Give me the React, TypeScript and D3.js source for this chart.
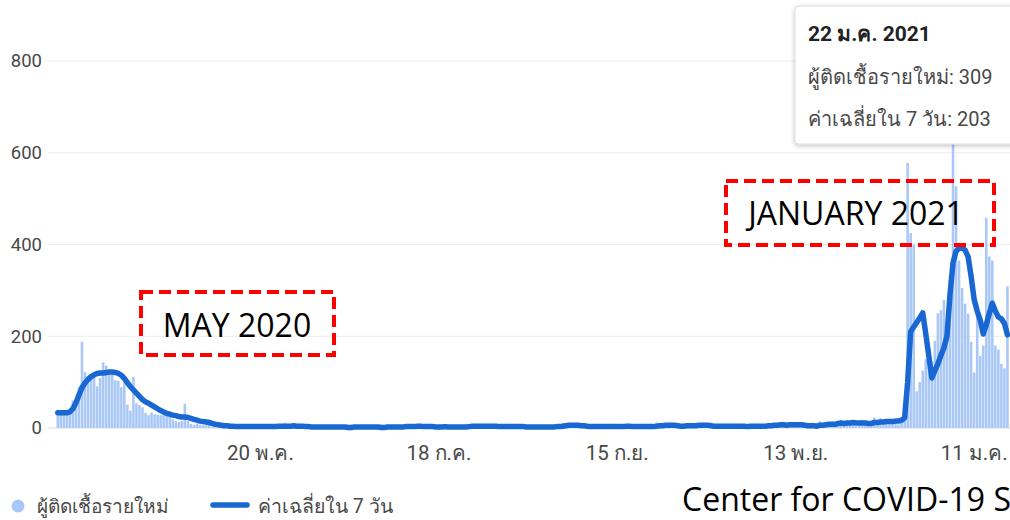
import React from 'react';
import * as d3 from 'd3';

const DAY = 86400000;
const startDay = Date.UTC(2020, 2, 14);

// daily new cases, one array per month (March starts on the 14th)
const casesMar = [30, 32, 33, 30, 35, 60, 50, 89, 188, 122, 106, 107, 111, 91, 109, 143, 136, 127];
const casesApr = [120, 104, 103, 89, 102, 51, 38, 111, 54, 50, 45, 33, 28, 34, 30, 29, 28, 33, 32, 27, 19, 15, 13, 15, 53, 15, 9, 7, 9, 7];
const casesMay = [6, 6, 18, 3, 1, 1, 3, 5, 5, 3, 0, 1, 2, 7, 2, 7, 3, 3, 1, 1, 4, 3, 2, 2, 3, 9, 3, 11, 1, 4, 6];
const casesJun = [1, 1, 2, 1, 2, 2, 0, 0, 3, 3, 2, 3, 4, 0, 0, 1, 0, 1, 2, 3, 5, 2, 2, 0, 4, 1, 1, 2, 0, 0];
const casesJul = [1, 3, 2, 2, 2, 3, 4, 5, 2, 1, 9, 3, 0, 2, 6, 1, 2, 1, 3, 5, 1, 0, 3, 1, 1, 4, 6, 4, 6, 3, 4];
const casesAug = [5, 2, 4, 4, 5, 2, 1, 2, 4, 3, 3, 5, 3, 0, 0, 4, 1, 5, 1, 3, 0, 2, 2, 1, 5, 6, 5, 11, 8, 9, 1];
const casesSep = [4, 2, 2, 3, 1, 4, 3, 5, 1, 2, 6, 3, 4, 2, 4, 3, 3, 8, 4, 1, 1, 3, 3, 3, 3, 4, 4, 12, 6, 5];
const casesOct = [10, 6, 2, 1, 1, 3, 4, 6, 3, 11, 9, 5, 5, 7, 2, 2, 5, 5, 3, 6, 4, 1, 5, 5, 3, 2, 7, 2, 4, 6, 3];
const casesNov = [2, 7, 3, 6, 9, 7, 3, 13, 2, 4, 11, 4, 9, 3, 5, 3, 7, 5, 3, 1, 14, 6, 13, 9, 7, 5, 13, 17, 7, 10];
const casesDec = [13, 15, 4, 6, 18, 7, 9, 12, 23, 9, 21, 8, 15, 11, 14, 19, 8, 25, 21, 578, 425, 400, 80, 100, 125, 150, 165, 145, 190, 250, 257];
const casesJan = [279, 216, 322, 745, 527, 365, 305, 271, 249, 188, 121, 250, 157, 180, 458, 374, 365, 180, 171, 140, 130, 309];

// 7-day average
const avgMar = [33, 33, 33, 33, 35, 42, 55, 72, 88, 98, 106, 112, 116, 119, 120, 120, 121, 122];
const avgApr = [122, 121, 119, 115, 108, 99, 90, 83, 76, 69, 62, 57, 54, 50, 46, 42, 38, 35, 32, 30, 28, 27, 25, 24, 24, 23, 21, 19, 17, 15];
const avgMay = [14, 13, 12, 10, 8, 7, 6, 5, 5, 4, 4, 3, 3, 3, 3, 3, 3, 3, 3, 3, 3, 3, 3, 3, 3, 4, 4, 4, 4, 4, 5];
const avgJun = [4, 4, 4, 3, 3, 2, 2, 2, 2, 2, 2, 2, 2, 2, 2, 2, 2, 1, 1, 2, 2, 2, 2, 2, 2, 2, 2, 2, 1, 1];
const avgJul = [2, 2, 2, 2, 2, 2, 3, 3, 3, 3, 4, 4, 3, 3, 3, 3, 2, 2, 2, 3, 2, 2, 2, 2, 2, 2, 2, 3, 4, 4, 4];
const avgAug = [4, 4, 4, 4, 4, 4, 3, 3, 3, 3, 3, 3, 3, 3, 3, 2, 2, 2, 2, 2, 2, 2, 2, 2, 2, 3, 3, 4, 5, 6, 6];
const avgSep = [6, 6, 5, 5, 4, 3, 3, 3, 3, 3, 3, 3, 3, 3, 3, 3, 3, 4, 4, 3, 3, 3, 3, 3, 3, 3, 3, 4, 5, 5];
const avgOct = [6, 6, 6, 6, 5, 4, 4, 5, 5, 5, 5, 6, 6, 6, 6, 5, 4, 4, 4, 4, 4, 4, 4, 4, 4, 4, 4, 3, 4, 4, 4];
const avgNov = [4, 4, 4, 5, 5, 6, 6, 7, 7, 6, 7, 7, 7, 7, 7, 6, 5, 5, 5, 4, 6, 6, 7, 8, 8, 8, 10, 11, 10, 11];
const avgDec = [11, 12, 11, 11, 11, 11, 10, 10, 12, 12, 13, 13, 14, 14, 14, 15, 15, 17, 22, 100, 210, 220, 230, 240, 251, 205, 157, 109, 125, 140, 158];
const avgJan = [175, 200, 290, 360, 385, 392, 392, 388, 373, 330, 280, 255, 235, 205, 225, 250, 272, 255, 242, 238, 228, 203];

const newCases = [...casesMar, ...casesApr, ...casesMay, ...casesJun, ...casesJul, ...casesAug, ...casesSep, ...casesOct, ...casesNov, ...casesDec, ...casesJan];
const avg7 = [...avgMar, ...avgApr, ...avgMay, ...avgJun, ...avgJul, ...avgAug, ...avgSep, ...avgOct, ...avgNov, ...avgDec, ...avgJan];

const tickDates = [Date.UTC(2020, 4, 20), Date.UTC(2020, 6, 18), Date.UTC(2020, 8, 15), Date.UTC(2020, 10, 13), Date.UTC(2021, 0, 11)];
const tickLabels = ['20 พ.ค.', '18 ก.ค.', '15 ก.ย.', '13 พ.ย.', '11 ม.ค.'];
const yTicks = [0, 200, 400, 600, 800];

const seriesNames = ['ผู้ติดเชื้อรายใหม่', 'ค่าเฉลี่ยใน 7 วัน'];
const tooltipTitle = '22 ม.ค. 2021';
const tooltipValues = [309, 203];
const calloutLabels = ['MAY 2020', 'JANUARY 2021'];
const sourceText = 'Center for COVID-19 Situation Administration';

const BAR = '#aac8f7';
const LINE = '#1967d2';
const AXIS_TEXT = '#484848';
const FONT = 'Roboto, Arial, sans-serif';

export default function App() {
  const W = 1010, H = 520;

  const x = d3.scaleUtc()
    .domain([new Date(Date.UTC(2020, 2, 22)), new Date(Date.UTC(2021, 0, 4))])
    .range([82, 953]);
  const y = d3.scaleLinear().domain([0, 800]).range([428, 61]);

  const days = newCases.map((v, i) => ({ date: new Date(startDay + i * DAY), cases: v, avg: avg7[i] }));
  const bw = (x(days[1].date) - x(days[0].date)) * 0.85;

  const line = d3.line<{ date: Date; avg: number }>()
    .x(d => x(d.date))
    .y(d => y(d.avg));

  return (
    <svg width={W} height={H} style={{ position: 'absolute', left: 0, top: 0, background: '#fff' }}>
      <defs>
        <filter id="tipShadow" x="-10%" y="-10%" width="130%" height="140%">
          <feDropShadow dx="0" dy="1.5" stdDeviation="2" floodColor="#000" floodOpacity="0.25" />
        </filter>
      </defs>

      {/* grid + y labels */}
      {yTicks.map(t => (
        <g key={t}>
          <line x1={48} x2={W} y1={y(t)} y2={y(t)} stroke={t === 0 ? '#dcdcdc' : '#ececec'} strokeWidth={1} />
          <text x={42} y={y(t)} dy="0.35em" textAnchor="end" fontFamily={FONT} fontSize={18.5} fill={AXIS_TEXT}>{t}</text>
        </g>
      ))}

      {/* daily bars */}
      {days.map((d, i) => (
        <rect key={i} x={x(d.date) - bw / 2} y={y(d.cases)} width={bw} height={y(0) - y(d.cases)} fill={BAR} />
      ))}

      {/* 7-day average */}
      <path d={line(days) || ''} fill="none" stroke={LINE} strokeWidth={5.5} strokeLinejoin="round" strokeLinecap="round" />

      {/* x labels */}
      {tickDates.map((t, i) => (
        <text key={t} x={x(new Date(t))} y={460} textAnchor="middle" fontFamily={FONT} fontSize={20.5} fill={AXIS_TEXT}>{tickLabels[i]}</text>
      ))}

      {/* callouts */}
      <rect x={141} y={292} width={193} height={63} fill="none" stroke="#ff0000" strokeWidth={4} strokeDasharray="12 6" />
      <text x={237} y={337} textAnchor="middle" fontFamily="'Open Sans', sans-serif" fontSize={32} fill="#000">{calloutLabels[0]}</text>
      <rect x={726} y={181} width={268} height={64} fill="none" stroke="#ff0000" strokeWidth={4} strokeDasharray="12 6" />
      <text x={856} y={225} textAnchor="middle" fontFamily="'Open Sans', sans-serif" fontSize={32} fill="#000">{calloutLabels[1]}</text>

      {/* legend */}
      <circle cx={18} cy={506} r={6.5} fill={BAR} />
      <text x={37} y={506} dy="0.35em" fontFamily={FONT} fontSize={19} fill={AXIS_TEXT}>{seriesNames[0]}</text>
      <line x1={213} x2={247} y1={505} y2={505} stroke={LINE} strokeWidth={5.5} strokeLinecap="round" />
      <text x={258} y={506} dy="0.35em" fontFamily={FONT} fontSize={19.5} fill={AXIS_TEXT}>{seriesNames[1]}</text>

      <text x={682} y={511} fontFamily="'Open Sans', sans-serif" fontSize={32} fill="#000">{sourceText}</text>

      {/* tooltip */}
      <g filter="url(#tipShadow)">
        <rect x={795} y={6} width={240} height={138} rx={4} fill="#fff" stroke="#e0e0e0" />
      </g>
      <text x={808} y={41} fontFamily={FONT} fontSize={21} fontWeight="bold" fill="#222">{tooltipTitle}</text>
      <text x={808} y={84} fontFamily={FONT} fontSize={20} fill={AXIS_TEXT}>{`${seriesNames[0]}: ${tooltipValues[0]}`}</text>
      <text x={808} y={126} fontFamily={FONT} fontSize={20} fill={AXIS_TEXT}>{`${seriesNames[1]}: ${tooltipValues[1]}`}</text>
    </svg>
  );
}
